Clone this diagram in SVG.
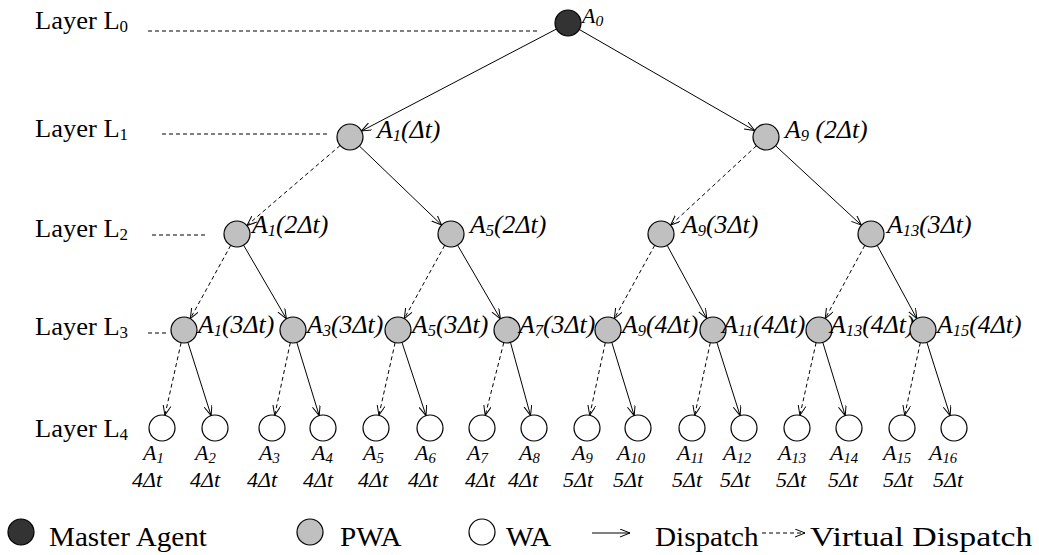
<svg xmlns="http://www.w3.org/2000/svg" width="1039" height="555" viewBox="0 0 1039 555">
<defs>
<marker id="arr" markerUnits="userSpaceOnUse" markerWidth="12" markerHeight="10" refX="10" refY="4" orient="auto">
<path d="M0,0 L10,4 L0,8" fill="none" stroke="#000" stroke-width="1"/>
</marker>
</defs>
<style>
text{font-family:"Liberation Serif","Times New Roman",serif;fill:#000}
.lay{font-size:25px}
.lab{font-size:25px;font-style:italic}
.leaf{font-size:21px;font-style:italic}
.leg{font-size:27px}
.sub{font-size:16px}
.lsub{font-size:14px}
.ma{fill:#333333;stroke:#000;stroke-width:1.2}
.pwa{fill:#c0c0c0;stroke:#000;stroke-width:1.2}
.wa{fill:#ffffff;stroke:#000;stroke-width:1.2}
.s{stroke:#000;stroke-width:1;fill:none;marker-end:url(#arr)}
.d{stroke:#000;stroke-width:1;fill:none;stroke-dasharray:4,3;marker-end:url(#arr)}
.g{stroke:#000;stroke-width:1;fill:none;stroke-dasharray:4,3}
</style>
<rect width="1039" height="555" fill="#fff"/>

<g id="layers">
<text class="lay" transform="matrix(1.06 0 0 1 35 29)">Layer L<tspan class="sub" dy="3">0</tspan></text>
<text class="lay" transform="matrix(1.06 0 0 1 35 137)">Layer L<tspan class="sub" dy="3">1</tspan></text>
<text class="lay" transform="matrix(1.06 0 0 1 35 237)">Layer L<tspan class="sub" dy="3">2</tspan></text>
<text class="lay" transform="matrix(1.06 0 0 1 35 335)">Layer L<tspan class="sub" dy="3">3</tspan></text>
<text class="lay" transform="matrix(1.06 0 0 1 35 437)">Layer L<tspan class="sub" dy="3">4</tspan></text>
<line class="g" x1="148" y1="31" x2="540" y2="31"/>
<line class="g" x1="162" y1="134" x2="330" y2="134"/>
<line class="g" x1="152" y1="235" x2="208" y2="235"/>
<line class="g" x1="148" y1="333" x2="167" y2="333"/>
</g>

<g id="connectors">
<line class="s" x1="556.5" y1="29" x2="361.5" y2="131"/>
<line class="s" x1="579.3" y1="29.5" x2="754.7" y2="130.5"/>
<line class="d" x1="340.1" y1="145.5" x2="246.9" y2="225.5"/>
<line class="s" x1="359.4" y1="146" x2="441.6" y2="225"/>
<line class="d" x1="756.4" y1="145.8" x2="670.6" y2="225.2"/>
<line class="s" x1="775.6" y1="145.8" x2="861.4" y2="225.2"/>
<line class="d" x1="230.7" y1="245.4" x2="190.3" y2="318.6"/>
<line class="s" x1="243.6" y1="245.2" x2="286.4" y2="318.8"/>
<line class="d" x1="444.7" y1="245.4" x2="404.3" y2="318.6"/>
<line class="s" x1="457.6" y1="245.2" x2="500.4" y2="318.8"/>
<line class="d" x1="654.7" y1="245.4" x2="614.3" y2="318.6"/>
<line class="s" x1="667.2" y1="245.4" x2="706.8" y2="318.6"/>
<line class="d" x1="864.8" y1="245.4" x2="825.2" y2="318.6"/>
<line class="s" x1="877.2" y1="245.4" x2="916.8" y2="318.6"/>
<line class="d" x1="181.1" y1="342.7" x2="164.9" y2="415.3"/>
<line class="s" x1="187.9" y1="342.4" x2="211.1" y2="415.6"/>
<line class="d" x1="290.3" y1="342.7" x2="274.7" y2="415.3"/>
<line class="s" x1="296.8" y1="342.4" x2="319.2" y2="415.6"/>
<line class="d" x1="395.1" y1="342.7" x2="378.9" y2="415.3"/>
<line class="s" x1="402" y1="342.4" x2="426" y2="415.6"/>
<line class="d" x1="503.8" y1="342.6" x2="485.2" y2="415.4"/>
<line class="s" x1="510.5" y1="342.5" x2="530.5" y2="415.5"/>
<line class="d" x1="605.3" y1="342.7" x2="589.7" y2="415.3"/>
<line class="s" x1="611.8" y1="342.4" x2="634.2" y2="415.6"/>
<line class="d" x1="710.3" y1="342.7" x2="694.7" y2="415.3"/>
<line class="s" x1="716.9" y1="342.4" x2="740.1" y2="415.6"/>
<line class="d" x1="816.1" y1="342.7" x2="799.9" y2="415.3"/>
<line class="s" x1="822.8" y1="342.4" x2="845.2" y2="415.6"/>
<line class="d" x1="920.3" y1="342.7" x2="904.7" y2="415.3"/>
<line class="s" x1="926.9" y1="342.4" x2="950.1" y2="415.6"/>
</g>

<g id="A0"><circle class="ma" cx="568" cy="23" r="13"/>
<text class="lab" style="font-size:21px" transform="matrix(1.05 0 0 1 582 23)">A<tspan class="sub" style="font-size:15px" dy="3">0</tspan></text></g>

<g id="L1-A1"><circle class="pwa" cx="350" cy="137" r="13"/>
<text class="lab" transform="matrix(1.03 0 0 1 377 138)">A<tspan class="sub" dy="3">1</tspan><tspan dy="-3">(Δt)</tspan></text></g>
<g id="L1-A9"><circle class="pwa" cx="766" cy="137" r="13"/>
<text class="lab" transform="matrix(1.03 0 0 1 785 138)">A<tspan class="sub" dy="3">9</tspan><tspan dy="-3"> (2Δt)</tspan></text></g>

<g id="L2-A1"><circle class="pwa" cx="237" cy="234" r="13"/>
<text class="lab" transform="matrix(1.03 0 0 1 252 233)">A<tspan class="sub" dy="3">1</tspan><tspan dy="-3">(2Δt)</tspan></text></g>
<g id="L2-A5"><circle class="pwa" cx="451" cy="234" r="13"/>
<text class="lab" transform="matrix(1.03 0 0 1 470 233)">A<tspan class="sub" dy="3">5</tspan><tspan dy="-3">(2Δt)</tspan></text></g>
<g id="L2-A9"><circle class="pwa" cx="661" cy="234" r="13"/>
<text class="lab" transform="matrix(1.03 0 0 1 682 233)">A<tspan class="sub" dy="3">9</tspan><tspan dy="-3">(3Δt)</tspan></text></g>
<g id="L2-A13"><circle class="pwa" cx="871" cy="234" r="13"/>
<text class="lab" transform="matrix(1.03 0 0 1 887 233)">A<tspan class="sub" dy="3">13</tspan><tspan dy="-3">(3Δt)</tspan></text></g>

<g id="L3-A1"><circle class="pwa" cx="184" cy="330" r="13"/>
<text class="lab" transform="matrix(1.03 0 0 1 198 333)">A<tspan class="sub" dy="3">1</tspan><tspan dy="-3">(3Δt)</tspan></text></g>
<g id="L3-A3"><circle class="pwa" cx="293" cy="330" r="13"/>
<text class="lab" transform="matrix(1.03 0 0 1 307 333)">A<tspan class="sub" dy="3">3</tspan><tspan dy="-3">(3Δt)</tspan></text></g>
<g id="L3-A5"><circle class="pwa" cx="398" cy="330" r="13"/>
<text class="lab" transform="matrix(1.03 0 0 1 412 333)">A<tspan class="sub" dy="3">5</tspan><tspan dy="-3">(3Δt)</tspan></text></g>
<g id="L3-A7"><circle class="pwa" cx="507" cy="330" r="13"/>
<text class="lab" transform="matrix(1.03 0 0 1 519 333)">A<tspan class="sub" dy="3">7</tspan><tspan dy="-3">(3Δt)</tspan></text></g>
<g id="L3-A9"><circle class="pwa" cx="608" cy="330" r="13"/>
<text class="lab" transform="matrix(1.03 0 0 1 622 333)">A<tspan class="sub" dy="3">9</tspan><tspan dy="-3">(4Δt)</tspan></text></g>
<g id="L3-A11"><circle class="pwa" cx="713" cy="330" r="13"/>
<text class="lab" transform="matrix(1.03 0 0 1 722 333)">A<tspan class="sub" dy="3">11</tspan><tspan dy="-3">(4Δt)</tspan></text></g>
<g id="L3-A13"><circle class="pwa" cx="819" cy="330" r="13"/>
<text class="lab" transform="matrix(1.03 0 0 1 830 333)">A<tspan class="sub" dy="3">13</tspan><tspan dy="-3">(4Δt)</tspan></text></g>
<g id="L3-A15"><circle class="pwa" cx="923" cy="330" r="13"/>
<text class="lab" transform="matrix(1.03 0 0 1 937 333)">A<tspan class="sub" dy="3">15</tspan><tspan dy="-3">(4Δt)</tspan></text></g>

<g id="W1"><circle class="wa" cx="162" cy="428" r="13"/>
<text class="leaf" transform="matrix(1.05 0 0 1 143 460)">A<tspan class="lsub" dy="3">1</tspan></text>
<text class="leaf" transform="matrix(1.05 0 0 1 132 487)">4Δt</text></g>
<g id="W2"><circle class="wa" cx="215" cy="428" r="13"/>
<text class="leaf" transform="matrix(1.05 0 0 1 195 460)">A<tspan class="lsub" dy="3">2</tspan></text>
<text class="leaf" transform="matrix(1.05 0 0 1 190 487)">4Δt</text></g>
<g id="W3"><circle class="wa" cx="272" cy="428" r="13"/>
<text class="leaf" transform="matrix(1.05 0 0 1 259 460)">A<tspan class="lsub" dy="3">3</tspan></text>
<text class="leaf" transform="matrix(1.05 0 0 1 247 487)">4Δt</text></g>
<g id="W4"><circle class="wa" cx="323" cy="428" r="13"/>
<text class="leaf" transform="matrix(1.05 0 0 1 312 460)">A<tspan class="lsub" dy="3">4</tspan></text>
<text class="leaf" transform="matrix(1.05 0 0 1 303 487)">4Δt</text></g>
<g id="W5"><circle class="wa" cx="376" cy="428" r="13"/>
<text class="leaf" transform="matrix(1.05 0 0 1 363 460)">A<tspan class="lsub" dy="3">5</tspan></text>
<text class="leaf" transform="matrix(1.05 0 0 1 358 487)">4Δt</text></g>
<g id="W6"><circle class="wa" cx="430" cy="428" r="13"/>
<text class="leaf" transform="matrix(1.05 0 0 1 415 460)">A<tspan class="lsub" dy="3">6</tspan></text>
<text class="leaf" transform="matrix(1.05 0 0 1 408 487)">4Δt</text></g>
<g id="W7"><circle class="wa" cx="482" cy="428" r="13"/>
<text class="leaf" transform="matrix(1.05 0 0 1 467 460)">A<tspan class="lsub" dy="3">7</tspan></text>
<text class="leaf" transform="matrix(1.05 0 0 1 465 487)">4Δt</text></g>
<g id="W8"><circle class="wa" cx="534" cy="428" r="13"/>
<text class="leaf" transform="matrix(1.05 0 0 1 519 460)">A<tspan class="lsub" dy="3">8</tspan></text>
<text class="leaf" transform="matrix(1.05 0 0 1 508 487)">4Δt</text></g>
<g id="W9"><circle class="wa" cx="587" cy="428" r="13"/>
<text class="leaf" transform="matrix(1.05 0 0 1 572 460)">A<tspan class="lsub" dy="3">9</tspan></text>
<text class="leaf" transform="matrix(1.05 0 0 1 563 487)">5Δt</text></g>
<g id="W10"><circle class="wa" cx="638" cy="428" r="13"/>
<text class="leaf" transform="matrix(1.05 0 0 1 617 460)">A<tspan class="lsub" dy="3">10</tspan></text>
<text class="leaf" transform="matrix(1.05 0 0 1 613 487)">5Δt</text></g>
<g id="W11"><circle class="wa" cx="692" cy="428" r="13"/>
<text class="leaf" transform="matrix(1.05 0 0 1 677 460)">A<tspan class="lsub" dy="3">11</tspan></text>
<text class="leaf" transform="matrix(1.05 0 0 1 672 487)">5Δt</text></g>
<g id="W12"><circle class="wa" cx="744" cy="428" r="13"/>
<text class="leaf" transform="matrix(1.05 0 0 1 723 460)">A<tspan class="lsub" dy="3">12</tspan></text>
<text class="leaf" transform="matrix(1.05 0 0 1 720 487)">5Δt</text></g>
<g id="W13"><circle class="wa" cx="797" cy="428" r="13"/>
<text class="leaf" transform="matrix(1.05 0 0 1 778 460)">A<tspan class="lsub" dy="3">13</tspan></text>
<text class="leaf" transform="matrix(1.05 0 0 1 776 487)">5Δt</text></g>
<g id="W14"><circle class="wa" cx="849" cy="428" r="13"/>
<text class="leaf" transform="matrix(1.05 0 0 1 830 460)">A<tspan class="lsub" dy="3">14</tspan></text>
<text class="leaf" transform="matrix(1.05 0 0 1 828 487)">5Δt</text></g>
<g id="W15"><circle class="wa" cx="902" cy="428" r="13"/>
<text class="leaf" transform="matrix(1.05 0 0 1 883 460)">A<tspan class="lsub" dy="3">15</tspan></text>
<text class="leaf" transform="matrix(1.05 0 0 1 883 487)">5Δt</text></g>
<g id="W16"><circle class="wa" cx="954" cy="428" r="13"/>
<text class="leaf" transform="matrix(1.05 0 0 1 929 460)">A<tspan class="lsub" dy="3">16</tspan></text>
<text class="leaf" transform="matrix(1.05 0 0 1 933 487)">5Δt</text></g>

<g id="legend">
<circle class="ma" cx="21" cy="532" r="13"/>
<text class="leg" transform="matrix(1.08 0 0 1 49 546)">Master Agent</text>
<circle class="pwa" cx="310" cy="532" r="13"/>
<text class="leg" transform="matrix(1.08 0 0 1 340 546)">PWA</text>
<circle class="wa" cx="482" cy="532" r="13"/>
<text class="leg" transform="matrix(1.08 0 0 1 506 546)">WA</text>
<line class="s" x1="592" y1="533" x2="630" y2="533"/>
<text class="leg" transform="matrix(1.08 0 0 1 655 546)">Dispatch</text>
<line class="d" x1="762" y1="533" x2="805" y2="533"/>
<text class="leg" transform="matrix(1.08 0 0 1 810 546)" textLength="206" lengthAdjust="spacingAndGlyphs">Virtual Dispatch</text>
</g>
</svg>
